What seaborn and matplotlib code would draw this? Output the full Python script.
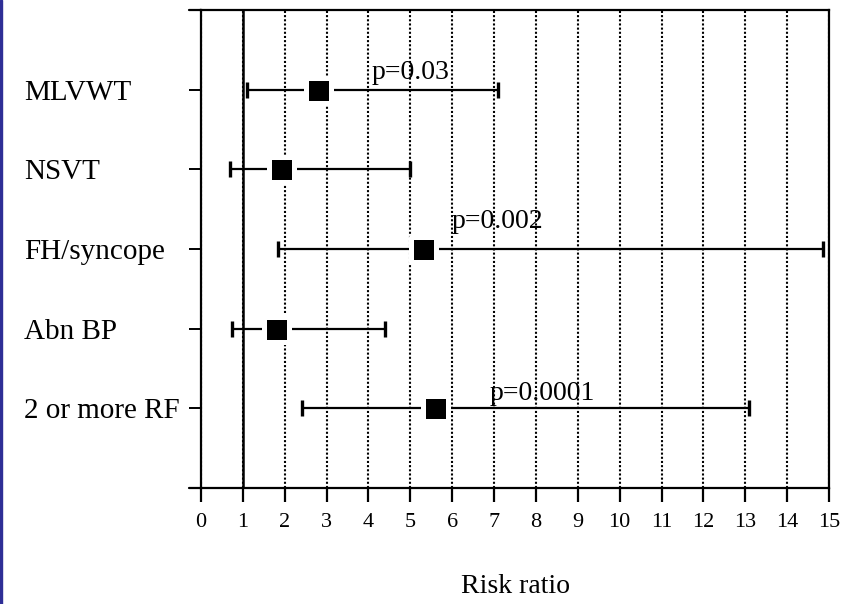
import matplotlib
matplotlib.use("Agg")
import matplotlib.pyplot as plt
import seaborn as sns
import pandas as pd
from matplotlib.patches import Rectangle

# risk factors, top to bottom
factors = ["MLVWT", "NSVT", "FH/syncope", "Abn BP", "2 or more RF"]
risk_ratio = [2.8, 1.9, 5.3, 1.8, 5.6]
ci_low = [1.1, 0.7, 1.85, 0.75, 2.4]
ci_high = [7.1, 5.0, 14.85, 4.4, 13.1]
p_values = ["p=0.03", "", "p=0.002", "", "p=0.0001"]

df = pd.DataFrame({"factor": factors, "rr": risk_ratio,
                   "lo": ci_low, "hi": ci_high, "p": p_values})
df["pos"] = range(len(df))

sns.set_theme(style="white")
plt.rcParams["font.family"] = ["Liberation Serif", "DejaVu Serif"]
plt.rcParams["text.color"] = "black"
plt.rcParams["axes.labelcolor"] = "black"
plt.rcParams["xtick.color"] = "black"
plt.rcParams["ytick.color"] = "black"

fig = plt.figure(figsize=(8.54, 6.04), dpi=100)
ax = fig.add_axes([0.2354, 0.192, 0.7353, 0.7914])

# dotted grid + solid reference line at 1
ax.grid(axis="x", color="black", linestyle=(0, (1, 1)), linewidth=1.5)
ax.set_axisbelow(True)
ax.axvline(1, color="black", lw=1.8, zorder=2)

# confidence intervals
ax.errorbar(df["rr"], df["pos"],
            xerr=[df["rr"] - df["lo"], df["hi"] - df["rr"]],
            fmt="none", ecolor="black", elinewidth=1.6,
            capsize=6, capthick=2.4, zorder=3)

# point estimates (white edge leaves the gap around the square)
sns.scatterplot(data=df, x="rr", y="pos", marker="s", s=18 ** 2,
                color="black", edgecolor="white", linewidth=3.6,
                zorder=4, ax=ax, legend=False)

# p-value labels, offsets tuned by eye
p_offsets = {0: (1.28, -0.13), 2: (0.69, -0.27), 4: (1.3, -0.11)}
for i, row in df.iterrows():
    if row["p"]:
        dx, dy = p_offsets[i]
        ax.text(row["rr"] + dx, row["pos"] + dy, row["p"], fontsize=20,
                ha="left", va="baseline", color="black", zorder=5)

ax.set_xlim(0, 15)
ax.set_ylim(len(df), -1)
ax.set_xticks(range(0, 16))
ax.set_yticks(df["pos"])
ax.set_yticklabels(df["factor"], fontsize=21)
for lab in ax.get_yticklabels():
    lab.set_ha("left")
ax.tick_params(axis="x", labelsize=16, length=10, width=1.6,
               direction="out", pad=8, bottom=True, colors="black")
ax.tick_params(axis="y", length=8.6, width=1.4, direction="out",
               pad=119, left=True, colors="black")

ax.set_xlabel("Risk ratio", fontsize=20, color="black")
ax.xaxis.set_label_coords(0.5, -0.18)
ax.set_ylabel("")

for s in ax.spines.values():
    s.set_color("black")
    s.set_linewidth(1.6)

# horizontal frame lines run a little past the left spine
for yy in (0, 1):
    ax.plot([-0.019, 0], [yy, yy], transform=ax.transAxes, color="black",
            lw=1.6, clip_on=False)

# thin blue edge on the left of the slide
fig.patches.append(Rectangle((0, 0), 2 / 854, 1, transform=fig.transFigure,
                             color="#2e2e96", zorder=10))

fig.savefig("out.png", dpi=100)
